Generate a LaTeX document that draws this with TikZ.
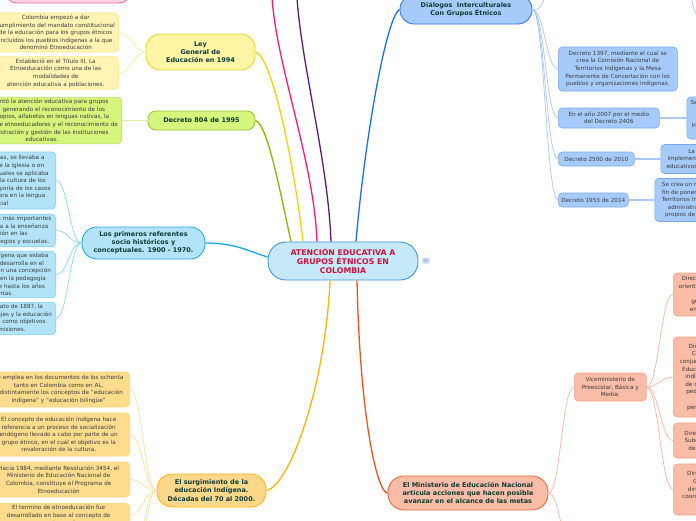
\documentclass[tikz,border=0pt]{standalone}
\usepackage{fontspec}
\setmainfont{DejaVu Sans}
\usepackage{tikz}
\usetikzlibrary{positioning,calc}
\definecolor{hubFill}{HTML}{C6E9FA}
\definecolor{hubLine}{HTML}{3C96D8}
\definecolor{hubText}{HTML}{D0103A}
\definecolor{topicText}{HTML}{0E3B33}
\definecolor{leafText}{HTML}{3C3C3C}
\definecolor{menuFill}{HTML}{D8ECFA}
\definecolor{menuText}{HTML}{8C9CCC}
\definecolor{pinkBranch}{HTML}{FF1A6C}
\definecolor{pinkFill}{HTML}{FFD0E4}
\definecolor{pinkLine}{HTML}{F5709F}
\definecolor{plumBranch}{HTML}{5A1E6E}
\definecolor{lawFill}{HTML}{FFF5A5}
\definecolor{lawLine}{HTML}{EED62A}
\definecolor{lawBranch}{HTML}{F2D400}
\definecolor{lawLeaf}{HTML}{FFF4B3}
\definecolor{lawLeafLine}{HTML}{FBE98C}
\definecolor{lawTwig}{HTML}{F9EC98}
\definecolor{decreeFill}{HTML}{D5F57C}
\definecolor{decreeLine}{HTML}{9AC93A}
\definecolor{decreeBranch}{HTML}{8AB800}
\definecolor{decreeTwig}{HTML}{D8EDA8}
\definecolor{rootsFill}{HTML}{B3E3F8}
\definecolor{rootsLine}{HTML}{28A8E6}
\definecolor{rootsBranch}{HTML}{18A6F0}
\definecolor{rootsLeafLine}{HTML}{7FD0F5}
\definecolor{rootsTwig}{HTML}{8ED6F6}
\definecolor{riseFill}{HTML}{FDD88A}
\definecolor{riseLine}{HTML}{F7B825}
\definecolor{riseBranch}{HTML}{FFB400}
\definecolor{riseLeaf}{HTML}{FDDC8E}
\definecolor{riseLeafLine}{HTML}{F9D47A}
\definecolor{riseTwig}{HTML}{FCE0A0}
\definecolor{minFill}{HTML}{F9BCA6}
\definecolor{minLine}{HTML}{F26B3A}
\definecolor{minBranch}{HTML}{F4511E}
\definecolor{minLeafLine}{HTML}{F6A285}
\definecolor{minTwig}{HTML}{F9B8A0}
\definecolor{dlgFill}{HTML}{A6CBFA}
\definecolor{dlgLine}{HTML}{2F7EE0}
\definecolor{dlgBranch}{HTML}{1F6FE6}
\definecolor{dlgLeafLine}{HTML}{78A9EE}
\definecolor{dlgTwig}{HTML}{A9C8F2}

\tikzset{
  hub/.style={draw=hubLine,fill=hubFill,line width=0.9pt,rounded corners=18pt,
              minimum width=150pt,minimum height=38pt,align=center,text=hubText,
              font=\fontsize{7.8}{9}\selectfont\bfseries},
  topic/.style={line width=0.9pt,align=center,text=topicText,inner sep=2pt,
                font=\fontsize{6.5}{8.2}\selectfont\bfseries},
  leaf/.style={line width=0.6pt,rounded corners=4pt,align=center,text=leafText,
               inner sep=2pt,font=\fontsize{5.7}{7.6}\selectfont},
  branch/.style={line width=1.3pt},
  twig/.style={line width=0.7pt}
}

\begin{document}
\begin{tikzpicture}[x=1pt,y=-1pt]
    \fill[white] (0,0) rectangle (696,520);
    \useasboundingbox (0,0) rectangle (696,520);

    \node[hub] (hub) at (343,261) {ATENCIÓN EDUCATIVA A\\GRUPOS ÉTNICOS EN\\COLOMBIA};
    \node[right=3pt of hub,fill=menuFill,inner sep=1pt,text=menuText,
          font=\fontsize{8}{8}\selectfont] (menu) {≡};

    \node[topic,draw=pinkLine,fill=pinkFill,rounded corners=12pt,
          minimum width=126pt,minimum height=26pt] (pinkTopic) at (68,-10) {};
    \coordinate (pinkEnd) at (272,-2);
    \coordinate (plumEnd) at (297,-2);

    \node[topic,draw=lawLine,fill=lawFill,rounded corners=14pt,
          minimum width=109pt,minimum height=36pt] (law) at (200.5,52)
          {Ley\\General de\\Educación en 1994};
    \node[leaf,draw=lawLeafLine,fill=lawLeaf,minimum width=126pt,
          minimum height=37pt,anchor=east] (law1) at (119,32.5)
          {Colombia empezó a dar\\cumplimiento del mandato constitucional\\de la educación para los grupos étnicos\\incluidos los pueblos indígenas a la que\\denominó Etnoeducación};
    \node[leaf,draw=lawLeafLine,fill=lawLeaf,minimum width=126pt,
          minimum height=32pt,anchor=east] (law2) at (119,73)
          {Estableció en el Título III, La\\Etnoeducación como una de las\\modalidades de\\atención educativa a poblaciones.};

    \node[topic,draw=decreeLine,fill=decreeFill,rounded corners=8pt,
          minimum width=107pt,minimum height=19pt] (decree) at (201.5,120.5)
          {Decreto 804 de 1995};
    \node[leaf,draw=decreeLine!70,fill=decreeFill,minimum width=160pt,
          minimum height=45pt,anchor=east] (decree1) at (122,120.5)
          {Reglamentó la atención educativa para grupos\\étnicos, generando el reconocimiento de los\\textos propios, alfabetos en lenguas nativas, la\\formación de etnoeducadores y el reconocimiento de\\la administración y gestión de las instituciones\\educativas.};

    \node[topic,draw=rootsLine,fill=rootsFill,rounded corners=15pt,
          minimum width=123pt,minimum height=32pt] (roots) at (143.5,243)
          {Los primeros referentes\\socio históricos y\\conceptuales. 1900 - 1970.};
    \node[leaf,draw=rootsLeafLine,fill=rootsFill,minimum width=112pt,
          minimum height=57pt,anchor=east] (roots1) at (56,180.5)
          {Para los indígenas, se llevaba a\\cabo a través de la iglesia o en\\escuelas en las cuales se aplicaba\\que desconocía la cultura de los\\pueblos, en la mayoría de los casos\\y la enseñanza era en la lengua\\oficial};
    \node[leaf,draw=rootsLeafLine,fill=rootsFill,minimum width=112pt,
          minimum height=31pt,anchor=east] (roots2) at (56,230.5)
          {Una de las labores más importantes\\y estaba dedicada a la enseñanza\\de la religión en las\\comunidades, colegios y escuelas.};
    \node[leaf,draw=rootsLeafLine,fill=rootsFill,minimum width=112pt,
          minimum height=45pt,anchor=east] (roots3) at (56,274.5)
          {La educación indígena que estaba\\de la iglesia se desarrolla en el\\evangelizadora con una concepción\\católica basada en la pedagogía\\que se mantiene hasta los años\\sesentas.};
    \node[leaf,draw=rootsLeafLine,fill=rootsFill,minimum width=112pt,
          minimum height=31pt,anchor=east] (roots4) at (56,318.5)
          {Con el Concordato de 1887, la\\reducción de salvajes y la educación\\se establecieron como objetivos\\para las misiones.};

    \node[topic,draw=riseLine,fill=riseFill,rounded corners=15pt,
          minimum width=109pt,minimum height=33pt] (rise) at (211.5,490.5)
          {El surgimiento de la\\educación Indígena.\\Décadas del 70 al 2000.};
    \node[leaf,draw=riseLeafLine,fill=riseLeaf,minimum width=142pt,
          minimum height=35pt,anchor=east] (rise1) at (130,389.5)
          {Se emplea en los documentos de los ochenta\\tanto en Colombia como en AL,\\indistintamente los conceptos de "educación\\indígena" y "educación bilingüe"};
    \node[leaf,draw=riseLeafLine,fill=riseLeaf,minimum width=142pt,
          minimum height=43pt,anchor=east] (rise2) at (130,434.5)
          {El concepto de educación indígena hace\\referencia a un proceso de socialización\\endógeno llevado a cabo por parte de un\\grupo étnico, en el cual el objetivo es la\\revaloración de la cultura.};
    \node[leaf,draw=riseLeafLine,fill=riseLeaf,minimum width=142pt,
          minimum height=35pt,anchor=east] (rise3) at (130,479.5)
          {Hacia 1984, mediante Resolución 3454, el\\Ministerio de Educación Nacional de\\Colombia, constituye el Programa de\\Etnoeducación};
    \node[leaf,draw=riseLeafLine,fill=riseLeaf,minimum width=142pt,
          anchor=north east] (rise4) at (130,503)
          {El termino de etnoeducación fue\\desarrollado en base al concepto de\\etnodesarrollo};
    \coordinate (riseDown) at (130,560);
    \coordinate (riseDeep) at (130,600);

    \node[topic,draw=minLine,fill=minFill,rounded corners=16pt,
          minimum width=160pt,minimum height=34pt] (ministry) at (468,493)
          {El Ministerio de Educación Nacional\\articula acciones que hacen posible\\avanzar en el alcance de las metas};
    \coordinate (minDown) at (575,560);
    \node[leaf,draw=minLeafLine,fill=minFill,minimum width=72pt,
          minimum height=28pt,anchor=west] (vice) at (574,387)
          {Viceministerio de\\Preescolar, Básica y\\Media:};
    \node[leaf,draw=minLeafLine,fill=minFill,minimum width=90pt,
          minimum height=43pt,anchor=west] (vice1) at (673,294.5)
          {Dirección de Calidad para\\orientaciones técnicas para\\la atención a\\grupos étnicos con\\enfoque diferencial.};
    \node[leaf,draw=minLeafLine,fill=minFill,minimum width=90pt,
          minimum height=80pt,anchor=west] (vice2) at (673,377)
          {Dirección de Primera\\Comisión Nacional\\conjuntamente con el Área\\Educación de los pueblos\\indígenas, el diseño de\\de modelos educativos\\pedagógicos propios y\\que sean\\pertinentes y propios.};
    \node[leaf,draw=minLeafLine,fill=minFill,minimum width=90pt,
          minimum height=35pt,anchor=west] (vice3) at (673,440.5)
          {Dirección de Cobertura,\\Subdirección de Acceso\\del sector educativo.};
    \node[leaf,draw=minLeafLine,fill=minFill,minimum width=90pt,
          minimum height=51pt,anchor=west] (vice4) at (673,489.5)
          {Dirección de Fomento\\Gestión Territorial\\direcciona y apoya la\\coordinación de acciones\\en las regiones};

    \node[topic,draw=dlgLine,fill=dlgFill,rounded corners=14pt,
          minimum width=132pt,minimum height=29pt] (dialog) at (466,9.5)
          {Diálogos~~Interculturales\\Con Grupos Étnicos};
    \coordinate (dlgUp) at (545,-3);
    \coordinate (edgeA) at (692,-2);
    \coordinate (edgeB) at (698,16);
    \node[leaf,draw=dlgLeafLine,fill=dlgFill,minimum width=119pt,
          minimum height=44pt,anchor=west] (dlg1) at (558,69)
          {Decreto 1397, mediante el cual se\\crea la Comisión Nacional de\\Territorios Indígenas y la Mesa\\Permanente de Concertación con los\\pueblos y organizaciones indígenas.};
    \node[leaf,draw=dlgLeafLine,fill=dlgFill,minimum width=101pt,
          minimum height=20pt,anchor=west] (dlg2) at (558,118)
          {En el año 2007 por el medio\\del Decreto 2406};
    \node[leaf,draw=dlgLeafLine,fill=dlgFill,minimum width=76pt,
          minimum height=14pt,anchor=west] (dlg3) at (558,159)
          {Decreto 2500 de 2010};
    \node[leaf,draw=dlgLeafLine,fill=dlgFill,minimum width=70pt,
          minimum height=14pt,anchor=west] (dlg4) at (558,200)
          {Decreto 1953 de 2014};
    \node[leaf,draw=dlgLeafLine,fill=dlgFill,minimum width=90pt,
          minimum height=42pt,right=27pt of dlg2] (dlg2x)
          {Se crea la Comisión Nacional\\de Trabajo y\\Concertación de\\Indígenas para la Educación\\(CONTCEPI)};
    \node[leaf,draw=dlgLeafLine,fill=dlgFill,minimum width=108pt,
          minimum height=29pt,right=26pt of dlg3] (dlg3x)
          {La contratación de\\implementación de los proyectos\\educativos propios de los pueblos};
    \node[leaf,draw=dlgLeafLine,fill=dlgFill,minimum width=114pt,
          minimum height=43pt,right=26pt of dlg4] (dlg4x)
          {Se crea un régimen especial con el\\fin de poner en funcionamiento los\\Territorios Indígenas respecto de la\\administración de los sistemas\\propios de los pueblos indígenas};

    \draw[branch,decreeBranch] ($(hub.north)+(-52,0)$) .. controls +(-12,-55) and +(12,4) .. (decree.east);
    \draw[branch,lawBranch] ($(hub.north)+(-40,0)$) .. controls +(-10,-85) and +(16,4) .. (law.east);
    \draw[branch,pinkBranch] ($(hub.north)+(-26,0)$) .. controls +(-3,-80) and +(5,70) .. (pinkEnd);
    \draw[branch,plumBranch] ($(hub.north)+(-12,0)$) .. controls +(-3,-80) and +(5,70) .. (plumEnd);
    \draw[branch,dlgBranch] ($(hub.north)+(13,0)$) .. controls +(8,-95) and +(-14,8) .. (dialog.west);
    \draw[branch,rootsBranch] (roots.east) .. controls +(30,0) and +(-20,-6) .. ($(hub.west)+(0,-4)$);
    \draw[branch,riseBranch] ($(hub.south)+(-13,0)$) .. controls +(-5,110) and +(22,-4) .. (rise.east);
    \draw[branch,minBranch] ($(hub.south)+(14,0)$) .. controls +(3,140) and +(-10,0) .. (ministry.west);

    \draw[twig,lawTwig] (law.west) .. controls +(-12,0) and +(12,0) .. (law1.east);
    \draw[twig,lawTwig] (law.west) .. controls +(-12,0) and +(12,0) .. (law2.east);
    \draw[twig,decreeTwig,line width=1.2pt] (decree.west) -- (decree1.east);
    \draw[twig,rootsTwig] (roots.west) .. controls +(-12,0) and +(12,0) .. (roots1.east);
    \draw[twig,rootsTwig] (roots.west) .. controls +(-12,0) and +(12,0) .. (roots2.east);
    \draw[twig,rootsTwig] (roots.west) .. controls +(-12,0) and +(12,0) .. (roots3.east);
    \draw[twig,rootsTwig] (roots.west) .. controls +(-12,0) and +(12,0) .. (roots4.east);
    \draw[twig,riseTwig] (rise.west) .. controls +(-12,0) and +(12,0) .. (rise1.east);
    \draw[twig,riseTwig] (rise.west) .. controls +(-12,0) and +(12,0) .. (rise2.east);
    \draw[twig,riseTwig] (rise.west) .. controls +(-12,0) and +(12,0) .. (rise3.east);
    \draw[twig,riseTwig] (rise.west) .. controls +(-12,0) and +(12,0) .. (rise4.east);
    \draw[twig,riseTwig] (rise.west) .. controls +(-12,0) and +(12,0) .. (riseDown);
    \draw[twig,riseTwig] (rise.west) .. controls +(-12,0) and +(12,0) .. (riseDeep);
    \draw[twig,minTwig] (ministry.east) .. controls +(12,0) and +(-12,0) .. (vice.west);
    \draw[twig,minTwig] (ministry.east) .. controls +(12,0) and +(-12,0) .. (minDown);
    \draw[twig,minTwig] (vice.east) .. controls +(12,0) and +(-12,0) .. (vice1.west);
    \draw[twig,minTwig] (vice.east) .. controls +(12,0) and +(-12,0) .. (vice2.west);
    \draw[twig,minTwig] (vice.east) .. controls +(12,0) and +(-12,0) .. (vice3.west);
    \draw[twig,minTwig] (vice.east) .. controls +(12,0) and +(-12,0) .. (vice4.west);
    \draw[twig,dlgTwig] (dialog.east) .. controls +(10,0) and +(-4,8) .. (dlgUp);
    \draw[twig,dlgTwig] (dialog.east) .. controls +(12,0) and +(-12,0) .. (dlg1.west);
    \draw[twig,dlgTwig] (dialog.east) .. controls +(12,0) and +(-12,0) .. (dlg2.west);
    \draw[twig,dlgTwig] (dialog.east) .. controls +(12,0) and +(-12,0) .. (dlg3.west);
    \draw[twig,dlgTwig] (dialog.east) .. controls +(12,0) and +(-12,0) .. (dlg4.west);
    \draw[twig,dlgTwig] (edgeA) .. controls +(0,8) and +(-3,-3) .. (edgeB);
    \draw[dlgTwig,line width=1.8pt] (dlg2) -- (dlg2x);
    \draw[dlgTwig,line width=1.8pt] (dlg3) -- (dlg3x);
    \draw[dlgTwig,line width=1.8pt] (dlg4) -- (dlg4x);
\end{tikzpicture}
\end{document}
